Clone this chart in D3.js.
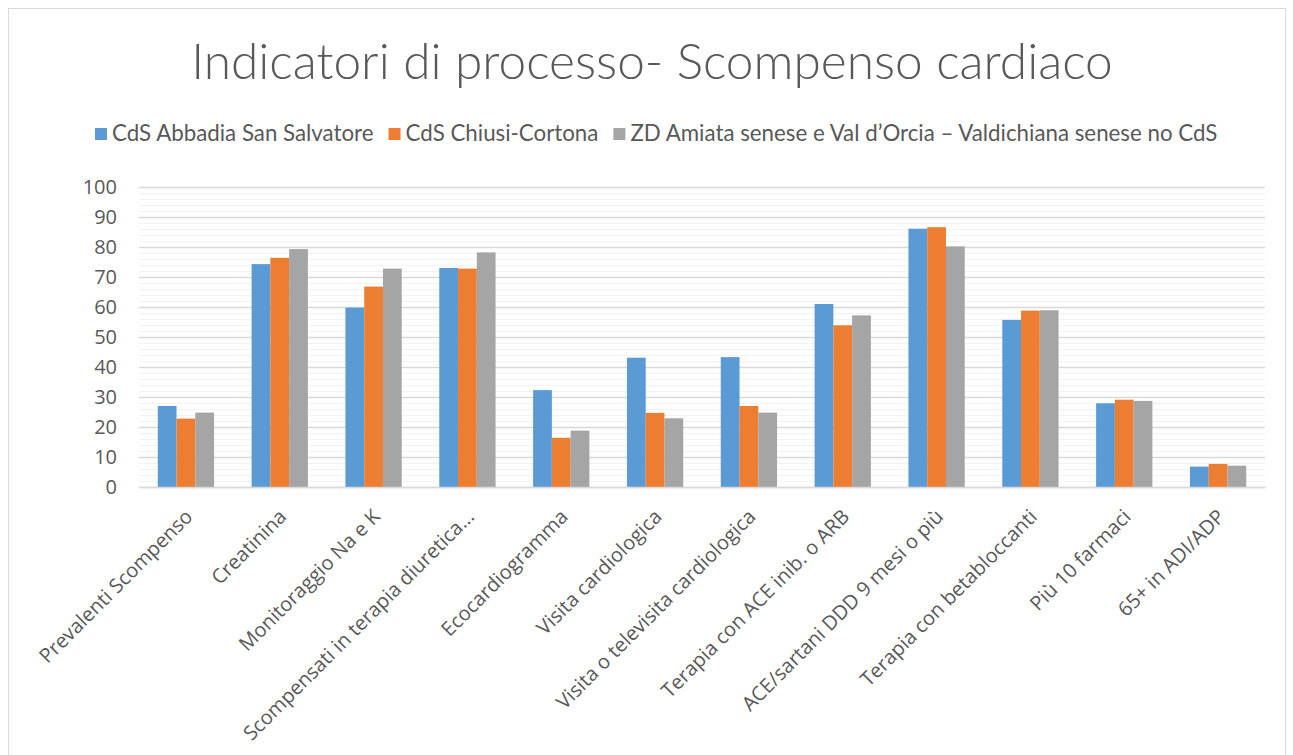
<!DOCTYPE html>
<html>
<head>
<meta charset="utf-8">
<script src="https://cdn.jsdelivr.net/npm/d3@7"></script>
<style>
  body { margin: 0; background: #fff; }
  text { font-family: "Open Sans", Lato, sans-serif; fill: #595959; }
</style>
</head>
<body>
<div id="chart"></div>
<script>
// chart data
var categories = ["Prevalenti Scompenso", "Creatinina", "Monitoraggio Na e K",
  "Scompensati in terapia diuretica...", "Ecocardiogramma", "Visita cardiologica",
  "Visita o televisita cardiologica", "Terapia con ACE inib. o ARB",
  "ACE/sartani DDD 9 mesi o più", "Terapia con betabloccanti", "Più 10 farmaci", "65+ in ADI/ADP"];
var seriesNames = ["CdS Abbadia San Salvatore", "CdS Chiusi-Cortona",
  "ZD Amiata senese e Val d’Orcia – Valdichiana senese no CdS"];
var abbadia = [27.0, 74.3, 59.8, 73.0, 32.3, 43.1, 43.3, 61.0, 86.1, 55.7, 27.9, 6.8];
var chiusi = [22.8, 76.4, 66.8, 72.8, 16.4, 24.7, 27.0, 53.9, 86.6, 58.8, 29.1, 7.7];
var zona = [24.8, 79.3, 72.8, 78.2, 18.8, 22.9, 24.8, 57.2, 80.2, 58.9, 28.7, 7.1];
var yTicks = [0, 10, 20, 30, 40, 50, 60, 70, 80, 90, 100];
var colors = ["#5b9bd5", "#ed7d31", "#a5a5a5"];

var svgWidth = 1293;
var svgHeight = 755;
var margin = {top: 187, right: 28, bottom: 268, left: 139};
var chartWidth = svgWidth - margin.left - margin.right;
var chartHeight = svgHeight - margin.top - margin.bottom;

var svg = d3.select("#chart")
  .append("svg")
  .attr("width", svgWidth)
  .attr("height", svgHeight);

// outer border
svg.append("rect")
  .attr("x", 8.5).attr("y", 8.5)
  .attr("width", 1277).attr("height", 760)
  .attr("fill", "none")
  .attr("stroke", "#d9d9d9");

// title, fitted to the reference width
var title = svg.append("text")
  .attr("x", 652)
  .attr("y", 79)
  .attr("text-anchor", "middle")
  .style("font-family", "Lato, 'Open Sans', sans-serif")
  .style("font-size", "48px")
  .style("font-weight", 300)
  .text("Indicatori di processo- Scompenso cardiaco");
var tw = title.node().getComputedTextLength();
title.style("font-size", (48 * 922 / tw) + "px");

var chartGroup = svg.append("g")
  .attr("transform", `translate(${margin.left}, ${margin.top})`);

var x0 = d3.scaleBand()
  .domain(categories)
  .range([0, chartWidth]);

var x1 = d3.scaleBand()
  .domain(seriesNames)
  .range([x0.bandwidth() * 0.2, x0.bandwidth() * 0.8]);

var y = d3.scaleLinear()
  .domain([0, 100])
  .range([chartHeight, 0]);

// minor gridlines
chartGroup.append("g")
  .selectAll("line")
  .data(d3.range(2, 100, 2).filter(v => v % 10 != 0))
  .enter().append("line")
    .attr("x1", 0).attr("x2", chartWidth)
    .attr("y1", d => y(d) + 0.5).attr("y2", d => y(d) + 0.5)
    .attr("stroke", "#f2f2f2");

// major gridlines + labels
var leftAxis = d3.axisLeft(y).tickValues(yTicks).tickSize(-chartWidth).tickPadding(22);
var yAxisG = chartGroup.append("g").call(leftAxis);
yAxisG.select(".domain").remove();
yAxisG.selectAll("line").attr("stroke", "#d9d9d9").attr("stroke-width", 1.3);
yAxisG.selectAll("text")
  .style("font-size", "20px")
  .style("font-family", "'Open Sans', Lato, sans-serif")
  .attr("fill", "#595959");

// bars
var seriesData = [abbadia, chiusi, zona];
seriesNames.forEach(function(name, i) {
  chartGroup.append("g")
    .selectAll("rect")
    .data(seriesData[i])
    .enter().append("rect")
      .attr("x", (d, j) => x0(categories[j]) + x1(name))
      .attr("y", d => y(d))
      .attr("width", x1.bandwidth())
      .attr("height", d => chartHeight - y(d))
      .attr("fill", colors[i]);
});

// bottom axis
var bottomAxis = d3.axisBottom(x0).tickSize(0);
var xAxisG = chartGroup.append("g")
  .attr("transform", `translate(0, ${chartHeight})`)
  .call(bottomAxis);
xAxisG.select(".domain").attr("stroke", "#d9d9d9").attr("stroke-width", 1.3);
xAxisG.selectAll("text")
  .style("font-size", "20px")
  .style("font-family", "'Open Sans', Lato, sans-serif")
  .attr("fill", "#595959")
  .attr("text-anchor", "end")
  .attr("y", 0)
  .attr("dy", "0.35em")
  .attr("transform", "translate(3, 26) rotate(-45)");

// legend, fitted to the reference span
var legend = svg.append("g");
var items = [];
seriesNames.forEach(function(name, i) {
  var item = legend.append("g");
  item.append("rect")
    .attr("x", 0).attr("y", 128)
    .attr("width", 12).attr("height", 12)
    .attr("fill", colors[i]);
  var t = item.append("text")
    .attr("x", 17).attr("y", 141)
    .style("font-family", "Lato, 'Open Sans', sans-serif")
    .style("font-size", "19px")
    .text(name);
  items.push({g: item, t: t});
});
var textTotal = d3.sum(items, d => d.t.node().getComputedTextLength());
var fs = 19 * (1123 - 3 * 17 - 2 * 15) / textTotal;
var lx = 95;
items.forEach(function(d) {
  d.t.style("font-size", fs + "px");
  d.g.attr("transform", `translate(${lx}, 0)`);
  lx += 17 + d.t.node().getComputedTextLength() + 15;
});
</script>
</body>
</html>
